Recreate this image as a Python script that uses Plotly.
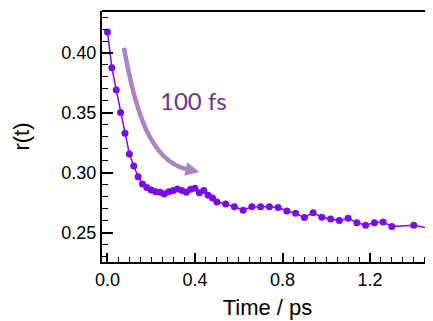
import plotly.graph_objects as go

time_ps = [0.00, 0.02, 0.04, 0.06, 0.08, 0.10, 0.12, 0.14, 0.16, 0.18,
           0.20, 0.22, 0.24, 0.26, 0.28, 0.30, 0.32, 0.34, 0.36, 0.38,
           0.40, 0.42, 0.44, 0.46, 0.48, 0.50, 0.54, 0.58, 0.62, 0.66,
           0.70, 0.74, 0.78, 0.82, 0.86, 0.90, 0.94, 0.98, 1.02, 1.06,
           1.10, 1.14, 1.18, 1.22, 1.26, 1.30, 1.40, 1.50]
r_t = [0.4175, 0.3878, 0.3692, 0.3503, 0.3331, 0.3158, 0.3058, 0.2969, 0.2908, 0.2878,
       0.2858, 0.2844, 0.2839, 0.2825, 0.2844, 0.2853, 0.2867, 0.2853, 0.2839, 0.2864,
       0.2872, 0.2836, 0.2853, 0.2814, 0.2792, 0.2758, 0.2742, 0.2719, 0.2689, 0.2719,
       0.2719, 0.2719, 0.2712, 0.2683, 0.2664, 0.2628, 0.2669, 0.2631, 0.2617, 0.2603,
       0.2622, 0.2586, 0.2564, 0.2586, 0.2592, 0.2553, 0.2564, 0.2529]

x_ticks = [0.0, 0.4, 0.8, 1.2]
x_tick_labels = ["0.0", "0.4", "0.8", "1.2"]
y_ticks = [0.25, 0.30, 0.35, 0.40]
y_tick_labels = ["0.25", "0.30", "0.35", "0.40"]

line_color = "#7A0AE8"
arrow_color = "rgba(112,48,160,0.6)"
text_color = "#7030A0"

fig = go.Figure()
fig.add_trace(go.Scatter(
    x=time_ps, y=r_t, mode="lines+markers",
    line=dict(color=line_color, width=1.5),
    marker=dict(color=line_color, size=7),
    showlegend=False,
))

# curved arrow (annotation)
fig.add_shape(type="path", xref="x", yref="y",
              path="M 0.0754,0.4042 C 0.1257,0.3525 0.1943,0.3108 0.3579,0.3033",
              line=dict(color=arrow_color, width=4.5))
fig.add_shape(type="path", xref="x", yref="y",
              path="M 0.4206,0.3008 L 0.3515,0.2976 L 0.3643,0.3089 Z",
              fillcolor=arrow_color, line=dict(width=0))
fig.add_annotation(x=0.391, y=0.3608, xref="x", yref="y", text="100 fs",
                   showarrow=False, font=dict(family="Lato", size=24, color=text_color))

# top frame line
fig.add_shape(type="line", xref="paper", yref="paper", x0=0, x1=1, y0=1, y1=1,
              line=dict(color="black", width=2))

axis_font = dict(family="Liberation Sans, Arial", size=18, color="black")
fig.update_layout(
    width=425, height=313,
    margin=dict(l=94, r=0, t=3, b=59),
    paper_bgcolor="white", plot_bgcolor="white",
    xaxis=dict(
        range=[-0.0251, 1.488], showgrid=False, zeroline=False, automargin=False,
        showline=True, linecolor="black", linewidth=2,
        ticks="inside", ticklen=9, tickwidth=1.5, tickcolor="black",
        tickvals=x_ticks, ticktext=x_tick_labels, tickfont=axis_font,
        minor=dict(ticks="inside", ticklen=5, dtick=0.05, tick0=0, tickcolor="black", tickwidth=1.2),
        title=dict(text="Time / ps", font=dict(family="Liberation Sans, Arial", size=22, color="black"),
                   standoff=11),
    ),
    yaxis=dict(
        range=[0.2258, 0.435], showgrid=False, zeroline=False, automargin=False,
        showline=True, linecolor="black", linewidth=2,
        ticks="inside", ticklen=11, tickwidth=1.5, tickcolor="black",
        tickvals=y_ticks, ticktext=y_tick_labels, tickfont=axis_font,
        minor=dict(ticks="inside", ticklen=6, dtick=0.01, tick0=0, tickcolor="black", tickwidth=1.2),
        title=dict(text="r(t)", font=dict(family="Liberation Sans, Arial", size=22, color="black"),
                   standoff=26),
    ),
)

fig.write_html("out.html")
